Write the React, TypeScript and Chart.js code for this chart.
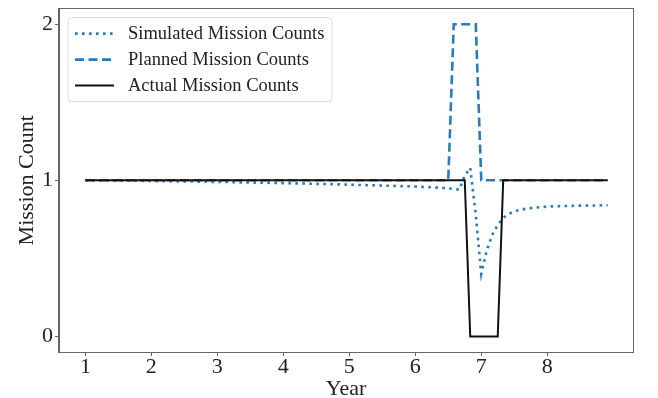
import React, { useEffect, useRef } from "react";
import { Chart, registerables } from "chart.js";

Chart.register(...registerables);

// Year axis (monthly samples)
const years: number[] = [
  1.000, 1.083, 1.167, 1.250, 1.333, 1.417, 1.500, 1.583, 1.667, 1.750, 1.833, 1.917,
  2.000, 2.083, 2.167, 2.250, 2.333, 2.417, 2.500, 2.583, 2.667, 2.750, 2.833, 2.917,
  3.000, 3.083, 3.167, 3.250, 3.333, 3.417, 3.500, 3.583, 3.667, 3.750, 3.833, 3.917,
  4.000, 4.083, 4.167, 4.250, 4.333, 4.417, 4.500, 4.583, 4.667, 4.750, 4.833, 4.917,
  5.000, 5.083, 5.167, 5.250, 5.333, 5.417, 5.500, 5.583, 5.667, 5.750, 5.833, 5.917,
  6.000, 6.083, 6.167, 6.250, 6.333, 6.417, 6.500, 6.583, 6.667, 6.750, 6.833, 6.917,
  7.000, 7.083, 7.167, 7.250, 7.333, 7.417, 7.500, 7.583, 7.667, 7.750, 7.833, 7.917,
  8.000, 8.083, 8.167, 8.250, 8.333, 8.417, 8.500, 8.583, 8.667, 8.750, 8.833, 8.917,
];

const simulated: number[] = [
  1.000, 1.000, 0.999, 0.999, 0.999, 0.998, 0.998, 0.998, 0.997, 0.997, 0.997, 0.996,
  0.996, 0.995, 0.995, 0.994, 0.994, 0.993, 0.993, 0.992, 0.992, 0.991, 0.991, 0.990,
  0.990, 0.989, 0.989, 0.988, 0.987, 0.987, 0.986, 0.985, 0.985, 0.984, 0.983, 0.983,
  0.982, 0.981, 0.980, 0.980, 0.979, 0.978, 0.977, 0.976, 0.976, 0.975, 0.974, 0.973,
  0.972, 0.971, 0.970, 0.969, 0.968, 0.967, 0.966, 0.965, 0.964, 0.963, 0.962, 0.961,
  0.960, 0.958, 0.957, 0.955, 0.953, 0.951, 0.948, 0.944, 0.940, 1.030, 1.080, 0.780,
  0.400, 0.550, 0.650, 0.715, 0.760, 0.785, 0.800, 0.810, 0.817, 0.822, 0.826, 0.829,
  0.831, 0.833, 0.834, 0.835, 0.836, 0.837, 0.838, 0.838, 0.839, 0.839, 0.840, 0.840,
];

const planned: number[] = [
  1, 1, 1, 1, 1, 1, 1, 1, 1, 1, 1, 1,
  1, 1, 1, 1, 1, 1, 1, 1, 1, 1, 1, 1,
  1, 1, 1, 1, 1, 1, 1, 1, 1, 1, 1, 1,
  1, 1, 1, 1, 1, 1, 1, 1, 1, 1, 1, 1,
  1, 1, 1, 1, 1, 1, 1, 1, 1, 1, 1, 1,
  1, 1, 1, 1, 1, 1, 1, 2, 2, 2, 2, 2,
  1, 1, 1, 1, 1, 1, 1, 1, 1, 1, 1, 1,
  1, 1, 1, 1, 1, 1, 1, 1, 1, 1, 1, 1,
];

const actual: number[] = [
  1, 1, 1, 1, 1, 1, 1, 1, 1, 1, 1, 1,
  1, 1, 1, 1, 1, 1, 1, 1, 1, 1, 1, 1,
  1, 1, 1, 1, 1, 1, 1, 1, 1, 1, 1, 1,
  1, 1, 1, 1, 1, 1, 1, 1, 1, 1, 1, 1,
  1, 1, 1, 1, 1, 1, 1, 1, 1, 1, 1, 1,
  1, 1, 1, 1, 1, 1, 1, 1, 1, 1, 0, 0,
  0, 0, 0, 0, 1, 1, 1, 1, 1, 1, 1, 1,
  1, 1, 1, 1, 1, 1, 1, 1, 1, 1, 1, 1,
];

const xTicks: number[] = [1, 2, 3, 4, 5, 6, 7, 8];
const yTicks: number[] = [0, 1, 2];
const seriesNames: string[] = ["Simulated Mission Counts", "Planned Mission Counts", "Actual Mission Counts"];

const BLUE = "#2b7bba";
const AXIS = "#666";
const FONT = "'Liberation Serif', 'Times New Roman', serif";

const frame = {
  id: "frame",
  afterDatasetsDraw(chart: any) {
    const { ctx, chartArea: a } = chart;
    ctx.save();
    ctx.strokeStyle = AXIS;
    ctx.lineWidth = 1;
    ctx.strokeRect(Math.round(a.left) - 0.5, Math.round(a.top) - 0.5, Math.round(a.right - a.left) + 1, Math.round(a.bottom - a.top) + 1);
    ctx.restore();
  },
};

const legendBox = {
  id: "legendBox",
  afterDraw(chart: any) {
    const { ctx, chartArea: a } = chart;
    const x0 = a.left + 9;
    const y0 = a.top + 9;
    const w = 264;
    const h = 84;
    ctx.save();
    ctx.beginPath();
    const r = 4;
    ctx.moveTo(x0 + r, y0);
    ctx.arcTo(x0 + w, y0, x0 + w, y0 + h, r);
    ctx.arcTo(x0 + w, y0 + h, x0, y0 + h, r);
    ctx.arcTo(x0, y0 + h, x0, y0, r);
    ctx.arcTo(x0, y0, x0 + w, y0, r);
    ctx.closePath();
    ctx.fillStyle = "rgba(255,255,255,0.85)";
    ctx.fill();
    ctx.strokeStyle = "#dcdcdc";
    ctx.lineWidth = 1;
    ctx.stroke();
    chart.data.datasets.forEach((ds: any, i: number) => {
      const cy = y0 + 16 + i * 26;
      ctx.beginPath();
      ctx.setLineDash(ds.borderDash || []);
      ctx.strokeStyle = ds.borderColor;
      ctx.lineWidth = ds.borderWidth;
      ctx.moveTo(x0 + 7, cy);
      ctx.lineTo(x0 + 46, cy);
      ctx.stroke();
      ctx.setLineDash([]);
      ctx.fillStyle = "#222";
      ctx.font = `18.5px ${FONT}`;
      ctx.textBaseline = "middle";
      ctx.fillText(ds.label, x0 + 60, cy + 1);
    });
    ctx.restore();
  },
};

export default function App() {
  const ref = useRef<HTMLCanvasElement>(null);
  useEffect(() => {
    const mk = (vals: number[]) => years.map((x, i) => ({ x, y: vals[i] }));
    const chart = new Chart(ref.current!, {
      type: "line",
      data: {
        datasets: [
          { label: seriesNames[0], data: mk(simulated), borderColor: BLUE, borderWidth: 2.6, borderDash: [2.6, 4.4], pointRadius: 0, tension: 0, order: 2 },
          { label: seriesNames[1], data: mk(planned), borderColor: BLUE, borderWidth: 2.6, borderDash: [9, 4.5], pointRadius: 0, tension: 0, order: 1 },
          { label: seriesNames[2], data: mk(actual), borderColor: "#111", borderWidth: 2, pointRadius: 0, tension: 0, order: 0 },
        ],
      },
      options: {
        responsive: false,
        animation: false,
        layout: { padding: { top: 8, right: 25, left: 0, bottom: 0 } },
        plugins: { legend: { display: false }, tooltip: { enabled: false } },
        scales: {
          x: {
            type: "linear",
            min: 0.6,
            max: 9.3,
            afterBuildTicks: (axis: any) => { axis.ticks = xTicks.map((v) => ({ value: v })); },
            afterFit: (axis: any) => { axis.height = 46; },
            grid: { display: true, drawOnChartArea: false, drawTicks: true, tickLength: 4, color: AXIS },
            border: { display: true, color: AXIS },
            ticks: { color: "#222", font: { family: FONT, size: 22 }, padding: -2, maxRotation: 0, autoSkip: false },
            title: { display: true, text: "Year", color: "#222", font: { family: FONT, size: 22, lineHeight: 0.8 }, padding: { top: 0, bottom: 0 } },
          },
          y: {
            type: "linear",
            min: -0.1,
            max: 2.1,
            afterBuildTicks: (axis: any) => { axis.ticks = yTicks.map((v) => ({ value: v })); },
            afterFit: (axis: any) => { axis.width = 59; },
            grid: { display: true, drawOnChartArea: false, drawTicks: true, tickLength: 4, color: AXIS },
            border: { display: true, color: AXIS },
            ticks: { color: "#222", font: { family: FONT, size: 22, lineHeight: 0.6 }, padding: 2, autoSkip: false },
            title: { display: true, text: "Mission Count", color: "#222", font: { family: FONT, size: 22, lineHeight: 1 }, padding: { top: 16, bottom: 0 } },
          },
        },
      },
      plugins: [frame, legendBox],
    } as any);
    return () => chart.destroy();
  }, []);
  return (
    <div style={{ position: "fixed", left: 0, top: 0, width: 658, height: 398, background: "#fff" }}>
      <canvas ref={ref} width={658} height={398} />
    </div>
  );
}
